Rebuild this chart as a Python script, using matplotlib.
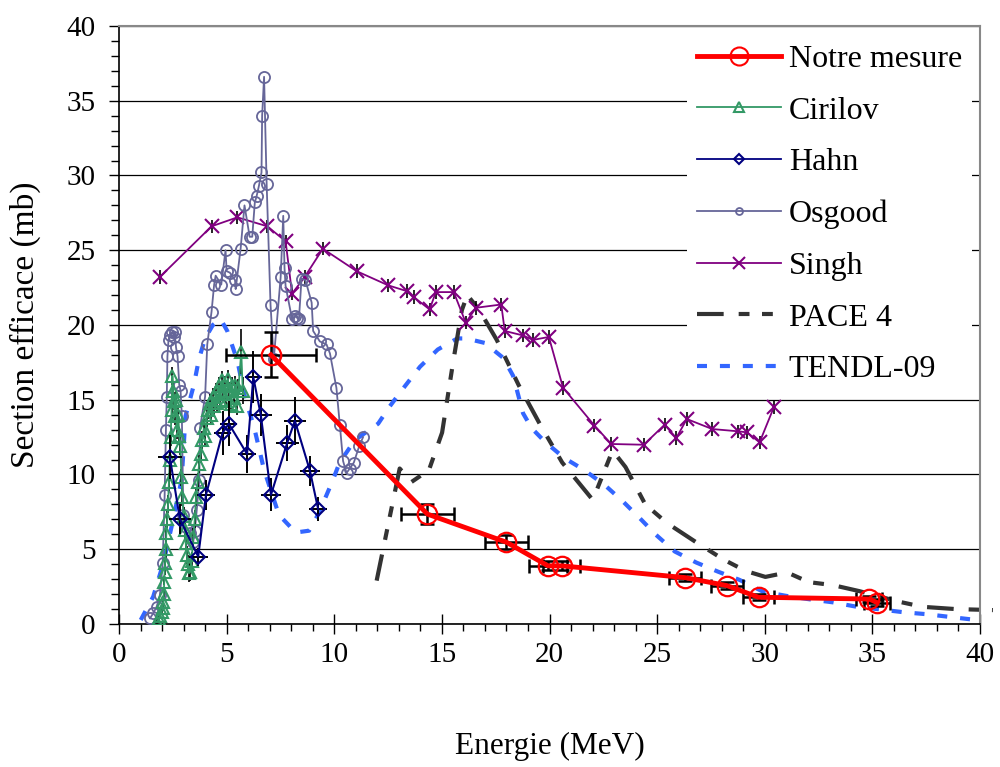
import matplotlib
matplotlib.use("Agg")
import matplotlib.pyplot as plt
from matplotlib.lines import Line2D
from matplotlib.ticker import MultipleLocator

plt.rcParams['font.family'] = ['Liberation Serif', 'DejaVu Serif']

# ---------------- data ----------------
notre_x = [7.06, 14.33, 18.0, 19.93, 20.58, 26.31, 28.24, 29.71, 34.86, 35.22]
notre_y = [18.0, 7.35, 5.47, 3.89, 3.89, 3.10, 2.57, 1.79, 1.67, 1.43]
notre_xerr = [2.08, 1.22, 1.01, 0.86, 0.86, 0.74, 0.74, 0.71, 0.61, 0.61]
notre_yerr = [1.5, 0.65, 0.45, 0.3, 0.3, 0.25, 0.25, 0.2, 0.2, 0.2]

cir_x = [1.78, 1.85, 1.92, 1.98, 2.03, 2.06, 2.08, 2.10, 2.12, 2.14,
         2.17, 2.20, 2.24, 2.28, 2.32, 2.36, 2.40, 2.44, 2.48, 2.52,
         2.56, 2.60, 2.65, 2.70, 2.75, 2.80, 2.85, 2.90, 2.95, 3.00,
         3.05, 3.10, 3.15, 3.20, 3.25, 3.30, 3.37, 3.45, 3.52, 3.58,
         3.65, 3.72, 3.80, 3.87, 3.94, 4.01, 4.08, 4.15, 4.22, 4.29,
         4.36, 4.43, 4.50, 4.57, 4.64, 4.71, 4.78, 4.85, 4.92, 4.99,
         5.06, 5.13, 5.20, 5.27, 5.34, 5.41, 5.48, 5.55, 5.68, 5.75]
cir_y = [0.15, 0.35, 0.55, 0.8, 1.1, 1.5, 2.0, 2.8, 3.5, 4.1,
         5.0, 6.1, 7.0, 8.0, 9.5, 11.0, 12.5, 14.3, 16.6, 15.6,
         14.9, 13.9, 15.0, 13.0, 14.0, 12.6, 11.9, 9.8, 8.5, 7.2,
         6.3, 5.4, 4.6, 4.0, 3.4, 3.5, 4.2, 5.8, 7.0, 8.5,
         9.5, 10.7, 11.4, 12.3, 13.1, 12.6, 13.8, 14.3, 14.8, 14.0,
         15.2, 14.6, 15.5, 14.8, 15.9, 15.0, 16.3, 15.4, 16.0, 14.9,
         16.4, 15.6, 14.7, 15.9, 15.1, 16.0, 14.6, 15.8, 18.2, 15.6]
cir_yerr = [0.2] * 10 + [0.6] * 58 + [1.5, 0.9]

hahn_x = [2.36, 2.83, 3.68, 4.04, 4.81, 5.10, 5.95, 6.24, 6.59, 7.06, 7.81, 8.17, 8.87, 9.25]
hahn_y = [11.17, 7.01, 4.51, 8.64, 12.78, 13.4, 11.37, 16.5, 13.96, 8.64, 12.1, 13.6, 10.25, 7.7]
hahn_xerr = [0.57, 0.5, 0.45, 0.4, 0.4, 0.4, 0.4, 0.4, 0.5, 0.45, 0.53, 0.5, 0.45, 0.4]
hahn_yerr = [1.5, 1.0, 0.6, 1.0, 1.5, 1.5, 1.3, 1.75, 1.4, 1.1, 1.2, 1.6, 1.0, 0.8]

osg_x = [1.44, 1.59, 1.75, 1.90, 2.03, 2.12, 2.18, 2.22, 2.25, 2.30,
         2.38, 2.48, 2.55, 2.59, 2.65, 2.72, 2.80, 2.86, 2.92, 2.99,
         3.10, 3.30, 3.45, 3.52, 3.61, 3.73, 3.76, 4.00, 4.10, 4.30,
         4.42, 4.49, 4.75, 4.95, 5.00, 5.15, 5.39, 5.42, 5.65, 5.83,
         6.07, 6.19, 6.31, 6.39, 6.50, 6.62, 6.65, 6.74, 6.86, 7.04,
         7.19, 7.51, 7.63, 7.69, 7.74, 8.04, 8.17, 8.25, 8.36, 8.48,
         8.66, 8.95, 9.02, 9.33, 9.64, 9.80, 10.10, 10.26, 10.41, 10.57,
         10.72, 10.91, 11.16, 11.34]
osg_y = [0.38, 0.72, 1.16, 1.94, 4.06, 8.6, 12.98, 15.2, 17.9, 19.0,
         19.3, 19.55, 19.2, 19.5, 18.5, 17.9, 16.0, 15.6, 13.9, 7.3,
         6.5, 6.07, 5.5, 6.2, 7.6, 9.6, 13.1, 15.2, 18.7, 20.9,
         22.7, 23.3, 22.7, 25.0, 23.6, 23.5, 23.0, 22.4, 25.1, 28.0,
         25.9, 25.9, 28.2, 28.6, 29.3, 30.2, 34.0, 36.6, 29.4, 21.35,
         17.7, 23.2, 27.3, 23.8, 22.6, 20.4, 20.6, 20.5, 20.4, 23.1,
         23.0, 21.5, 19.6, 18.9, 18.7, 18.1, 15.8, 13.3, 10.9, 10.1,
         10.4, 10.8, 11.9, 12.5]

singh_x = [1.89, 4.30, 5.50, 6.89, 7.74, 8.04, 8.62, 9.47, 11.04, 12.51, 13.36, 13.69, 14.43,
           14.72, 15.55, 16.11, 16.58, 17.76, 17.92, 18.77, 19.23, 19.97, 20.63, 22.09, 22.87,
           24.38, 25.35, 25.89, 26.38, 27.56, 28.75, 29.17, 29.76, 30.42]
singh_y = [23.2, 26.6, 27.2, 26.6, 25.6, 22.1, 23.2, 25.1, 23.6, 22.65, 22.27, 21.87, 21.04,
           22.2, 22.2, 20.15, 21.15, 21.37, 19.6, 19.3, 19.0, 19.2, 15.8, 13.27, 12.04,
           11.99, 13.33, 12.44, 13.71, 13.04, 12.89, 12.82, 12.15, 14.49]
singh_yerr = [0.45] * 34

pace_x = [11.97, 13.04, 13.59, 14.40, 15.01, 15.52, 15.93, 16.18, 16.74, 17.55, 18.56, 19.58,
          20.59, 22.01, 22.93, 23.53, 24.45, 25.46, 26.78, 28.10, 29.11, 30.03, 31.04, 32.05,
          33.17, 34.39, 35.30, 36.21, 37.33, 38.85, 40.6]
pace_y = [2.9, 10.4, 9.5, 10.3, 12.8, 17.5, 21.0, 22.0, 21.0, 19.0, 16.0, 13.3, 10.8,
          8.3, 11.6, 10.5, 8.0, 6.75, 5.5, 4.3, 3.55, 3.15, 3.45, 2.8, 2.6, 2.2,
          1.85, 1.5, 1.15, 1.0, 0.93]

tendl_x = [1.01, 1.59, 2.06, 2.44, 2.91, 3.09, 3.48, 3.71, 4.00, 4.36, 4.72, 5.03, 5.50, 5.88,
           6.27, 6.74, 7.43, 8.21, 8.83, 9.28, 9.90, 10.25, 10.96, 12.04, 12.58, 13.28, 13.98,
           14.81, 15.72, 16.13, 16.99, 17.85, 18.31, 18.77, 19.17, 19.78, 20.69, 21.61, 22.56,
           23.41, 24.18, 24.95, 25.82, 26.82, 27.83, 28.83, 29.91, 31.00, 32.09, 33.16, 34.25,
           35.33, 36.49, 37.57, 38.73, 39.82, 40.0]
tendl_y = [0.27, 1.83, 4.07, 6.5, 9.65, 13.9, 16.0, 17.7, 19.1, 20.0, 20.4, 19.6, 17.6, 15.0,
           13.2, 10.3, 7.3, 6.12, 6.24, 7.4, 9.5, 10.8, 12.3, 13.4, 14.56, 15.9, 17.2,
           18.36, 19.1, 19.1, 18.8, 17.8, 16.6, 14.1, 13.1, 12.2, 11.1, 10.3, 9.3, 8.2,
           7.1, 5.96, 4.85, 4.11, 3.5, 2.95, 2.17, 1.88, 1.65, 1.45, 1.16, 0.98,
           0.78, 0.65, 0.45, 0.27, 0.25]

labels = ["Notre mesure", "Cirilov", "Hahn", "Osgood", "Singh", "PACE 4", "TENDL-09"]
x_ticks = [0, 5, 10, 15, 20, 25, 30, 35, 40]
y_ticks = [0, 5, 10, 15, 20, 25, 30, 35, 40]

# ---------------- colors / styles ----------------
c_red = '#FF0000'
c_green = '#339966'
c_navy = '#000080'
c_osg = '#666699'
c_singh = '#800080'
c_pace = '#333333'
c_tendl = '#3366FF'
pace_ls = (0, (6.4, 3.6, 2.6, 3.0, 2.6, 3.6))
tendl_ls = (0, (2.4, 3.1))

fig = plt.figure(figsize=(10, 7.67), dpi=100)
ax = fig.add_axes([0.119, 0.18644, 0.861, 0.7797])

ax.set_xlim(0, 40)
ax.set_ylim(0, 40)
ax.yaxis.grid(True, color='black', linewidth=0.9)
ax.set_axisbelow(True)

# theory curves
ax.plot(tendl_x, tendl_y, color=c_tendl, lw=3.0, ls=tendl_ls, zorder=2)
ax.plot(pace_x, pace_y, color=c_pace, lw=3.0, ls=pace_ls, zorder=2, clip_on=False)

# Singh
ax.errorbar(singh_x, singh_y, yerr=singh_yerr, fmt='none', ecolor='black', elinewidth=1.2, zorder=3)
ax.plot(singh_x, singh_y, color=c_singh, lw=1.3, marker='x', ms=10, mew=1.5, zorder=3)

# Osgood
ax.plot(osg_x, osg_y, color=c_osg, lw=1.3, marker='o', ms=8, mfc='none', mec=c_osg, mew=1.3, zorder=3)

# Cirilov
ax.errorbar(cir_x, cir_y, yerr=cir_yerr, fmt='none', ecolor='black', elinewidth=1.2, zorder=4)
ax.plot(cir_x, cir_y, color=c_green, lw=1.3, marker='^', ms=9, mfc='none', mec=c_green, mew=1.5, zorder=4)

# Hahn
ax.errorbar(hahn_x, hahn_y, xerr=hahn_xerr, yerr=hahn_yerr, fmt='none', ecolor='black',
            elinewidth=1.4, zorder=5)
ax.plot(hahn_x, hahn_y, color=c_navy, lw=1.5, marker='D', ms=7, mfc='none', mec=c_navy, mew=1.5, zorder=5)

# Notre mesure
ax.errorbar(notre_x, notre_y, xerr=notre_xerr, yerr=notre_yerr, fmt='none', ecolor='black',
            elinewidth=1.8, capsize=5, capthick=1.8, zorder=6)
ax.plot(notre_x, notre_y, color=c_red, lw=3.5, marker='o', ms=14, mfc='none', mec=c_red, mew=1.6, zorder=6)

# axes styling
ax.set_xticks(x_ticks)
ax.set_yticks(y_ticks)
ax.xaxis.set_minor_locator(MultipleLocator(1))
ax.yaxis.set_minor_locator(MultipleLocator(1))
ax.tick_params(axis='x', which='major', direction='inout', length=14, width=1.0, labelsize=21, pad=6)
ax.tick_params(axis='x', which='minor', direction='out', length=5, width=1.0)
ax.tick_params(axis='y', which='major', direction='out', length=7, width=1.0, labelsize=21, pad=10)
ax.tick_params(axis='y', which='minor', direction='out', length=6, width=1.0)
for s in ['top', 'right']:
    ax.spines[s].set_color('#888888')
    ax.spines[s].set_linewidth(1.5)
for s in ['left', 'bottom']:
    ax.spines[s].set_color('black')
    ax.spines[s].set_linewidth(1.2)

ax.set_xlabel("Energie (MeV)", fontsize=22.5, labelpad=46)
ax.set_ylabel("Section efficace (mb)", fontsize=24, labelpad=18)

handles = [
    Line2D([], [], color=c_red, lw=3.5, marker='o', ms=13, mfc='none', mec=c_red, mew=1.5),
    Line2D([], [], color=c_green, lw=1.3, marker='^', ms=7, mfc='none', mec=c_green, mew=1.5),
    Line2D([], [], color=c_navy, lw=1.3, marker='D', ms=5, mfc='none', mec=c_navy, mew=1.5),
    Line2D([], [], color=c_osg, lw=1.3, marker='o', ms=5, mfc='none', mec=c_osg, mew=1.3),
    Line2D([], [], color=c_singh, lw=1.3, marker='x', ms=8, mew=1.5),
    Line2D([], [], color=c_pace, lw=3.0, ls=pace_ls),
    Line2D([], [], color=c_tendl, lw=3.0, ls=tendl_ls),
]
leg = ax.legend(handles, labels, loc='upper left', bbox_to_anchor=(0.66, 0.985),
                fontsize=23, frameon=True, fancybox=False, framealpha=1.0,
                edgecolor='none', facecolor='white', handlelength=2.63,
                handletextpad=0.25, labelspacing=0.70, borderpad=0.3, borderaxespad=0.0)
leg.set_zorder(10)

fig.savefig("out.png", dpi=100)
